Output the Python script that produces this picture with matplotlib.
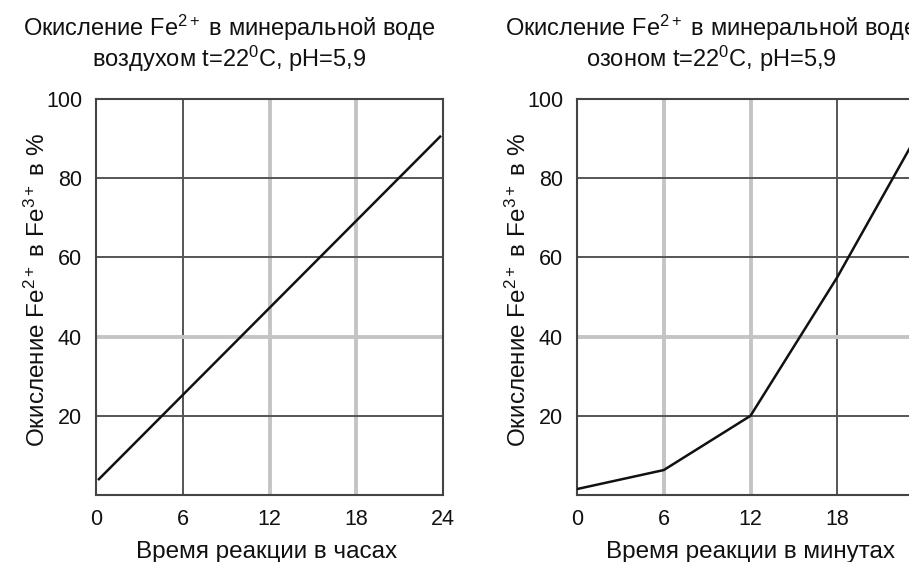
import numpy as np
import matplotlib
matplotlib.use("Agg")
import matplotlib.pyplot as plt

# ─────────────────────────────────────────────
# Data
# ─────────────────────────────────────────────

x_ticks = [0, 6, 12, 18, 24]
y_ticks = [20, 40, 60, 80, 100]

air_hours = [0.2, 23.8]
air_pct   = [4, 90.5]

ozone_min = [0, 6, 12, 18, 24]
ozone_pct = [1.5, 6.3, 20, 55, 94]

title_line1 = "Окисление Fe$^{2+}$ в минеральной воде"
title_line2 = ["воздухом t=22$^{0}$C, pH=5,9", "озоном t=22$^{0}$C, pH=5,9"]
ylabel  = "Окисление Fe$^{2+}$ в Fe$^{3+}$ в %"
xlabels = ["Время реакции в часах", "Время реакции в минутах"]

# gridline look per panel (dark thin / light thick), mimics the scan
DARK  = dict(color="#555555", lw=1.4)
LIGHT = dict(color="#c4c4c4", lw=2.8)
vgrid_styles = [[DARK, LIGHT, LIGHT], [LIGHT, LIGHT, DARK]]
hgrid_styles = [[DARK, LIGHT, DARK, DARK], [DARK, LIGHT, DARK, DARK]]

# ─────────────────────────────────────────────
# Style
# ─────────────────────────────────────────────

plt.rcParams['font.family'] = ['Liberation Sans', 'DejaVu Sans']
plt.rcParams['mathtext.fontset'] = 'custom'
plt.rcParams['mathtext.rm'] = 'Liberation Sans'
plt.rcParams['mathtext.it'] = 'Liberation Sans'
plt.rcParams['mathtext.bf'] = 'Liberation Sans'

W, H = 909, 562
fig = plt.figure(figsize=(W / 100, H / 100), dpi=100)

def px_rect(left, right, top, bottom):
    return [left / W, 1 - bottom / H, (right - left) / W, (bottom - top) / H]

axes_px   = [(96, 443), (577, 924)]
title_cx  = [229, 711]
xlabel_cx = [267, 750]

series = [(air_hours, air_pct), (ozone_min, ozone_pct)]

for i, ((left, right), (xs, ys)) in enumerate(zip(axes_px, series)):
    ax = fig.add_axes(px_rect(left, right, 99, 495))
    ax.set_xlim(0, 24)
    ax.set_ylim(0, 100)

    for x, st in zip(x_ticks[1:-1], vgrid_styles[i]):
        ax.axvline(x, zorder=1, **st)
    for y, st in zip(y_ticks[:-1], hgrid_styles[i]):
        ax.axhline(y, zorder=1, **st)

    ax.plot(xs, ys, color="#111111", lw=1.8, zorder=3)

    for sp in ax.spines.values():
        sp.set_color("#444444")
        sp.set_linewidth(1.5)

    ax.set_xticks(x_ticks)
    ax.set_yticks(y_ticks)
    ax.tick_params(length=0, labelsize=15.5, colors="#111111")
    ax.tick_params(axis='x', pad=10)
    ax.tick_params(axis='y', pad=10)

    ax.set_ylabel(ylabel, fontsize=17.5, color="#111111")
    ax.yaxis.set_label_coords(-46 / (right - left), 0.518)

    fig.text(title_cx[i] / W, 1 - 36 / H, title_line1, ha='center', va='baseline',
             fontsize=17, color="#111111")
    fig.text(title_cx[i] / W, 1 - 67 / H, title_line2[i], ha='center', va='baseline',
             fontsize=17, color="#111111")
    fig.text(xlabel_cx[i] / W, 4 / H, xlabels[i], ha='center', va='baseline',
             fontsize=17.5, color="#111111")

fig.savefig("out.png", dpi=100)
